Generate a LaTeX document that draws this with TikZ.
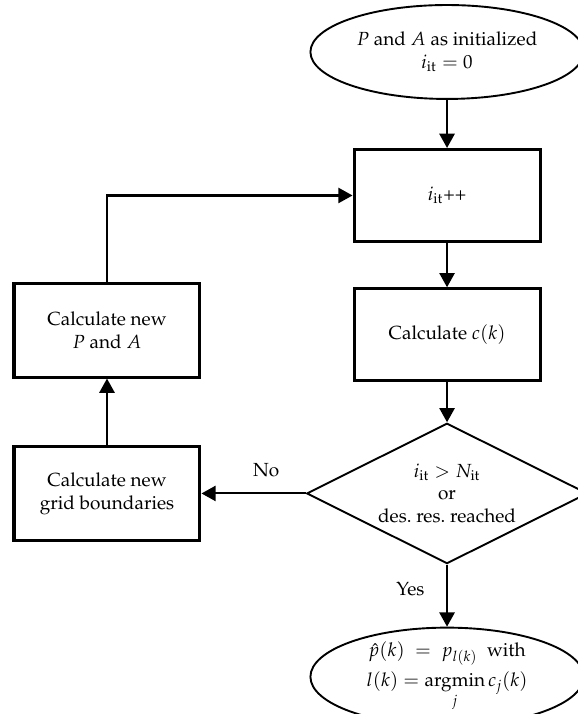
\documentclass[tikz,border=0pt]{standalone}
\usepackage[T1]{fontenc}
\usepackage{amsmath}
\usepackage{mathpazo}
\usetikzlibrary{positioning,arrows.meta,shapes.geometric}

\begin{document}
\begin{tikzpicture}[
  node distance=8mm and 19mm,
  box/.style={draw,line width=1.6pt,align=center,minimum width=98pt,minimum height=48.5pt,inner sep=3pt},
  term/.style={draw,ellipse,line width=1pt,align=center,minimum width=144pt,minimum height=49.5pt,inner sep=1pt},
  test/.style={draw,diamond,aspect=2,line width=1pt,align=center,minimum width=148pt,minimum height=74pt,inner sep=0pt},
  >={Triangle[length=7.5pt,width=8pt]},
  line width=1.1pt]
\useasboundingbox (0,0) rectangle (304.1pt,-376.3pt);
\node[term] (init) at (235.6pt,-27.4pt) {$P$ and $A$ as initialized\\$i_{\mathrm{it}}=0$};
\node[box,below=8.9mm of init] (inc) {$i_{\mathrm{it}}$++};
\node[box,below=8.2mm of inc] (calc) {Calculate $c(k)$};
\node[test,below=7.4mm of calc] (stop) {$i_{\mathrm{it}}>N_{\mathrm{it}}$\\or\\des.\ res.\ reached};
\node[term,below=11.5mm of stop,minimum height=48pt,inner sep=0pt] (res) {$\hat{p}(k) \;=\; p_{l(k)}$~~with\\[2.5pt]$l(k)=\operatorname*{argmin}\limits_{j} c_j(k)$};
\node[box,left=19.3mm of stop,minimum height=49.5pt] (grid) {Calculate new\\grid boundaries};
\node[box,above=12.3mm of grid,minimum height=49.5pt] (newPA) {Calculate new\\$P$ and $A$};
\draw[->] (init) -- (inc);
\draw[->] (inc) -- (calc);
\draw[->] (calc) -- (stop);
\draw[->] (stop) -- node[pos=0.4,left=8pt] {Yes} (res);
\draw[->] (stop) -- node[pos=0.38,above=5pt] {No} (grid);
\draw[->] (grid) -- (newPA);
\draw[->] (newPA.north) |- (inc.west);
\end{tikzpicture}
\end{document}
